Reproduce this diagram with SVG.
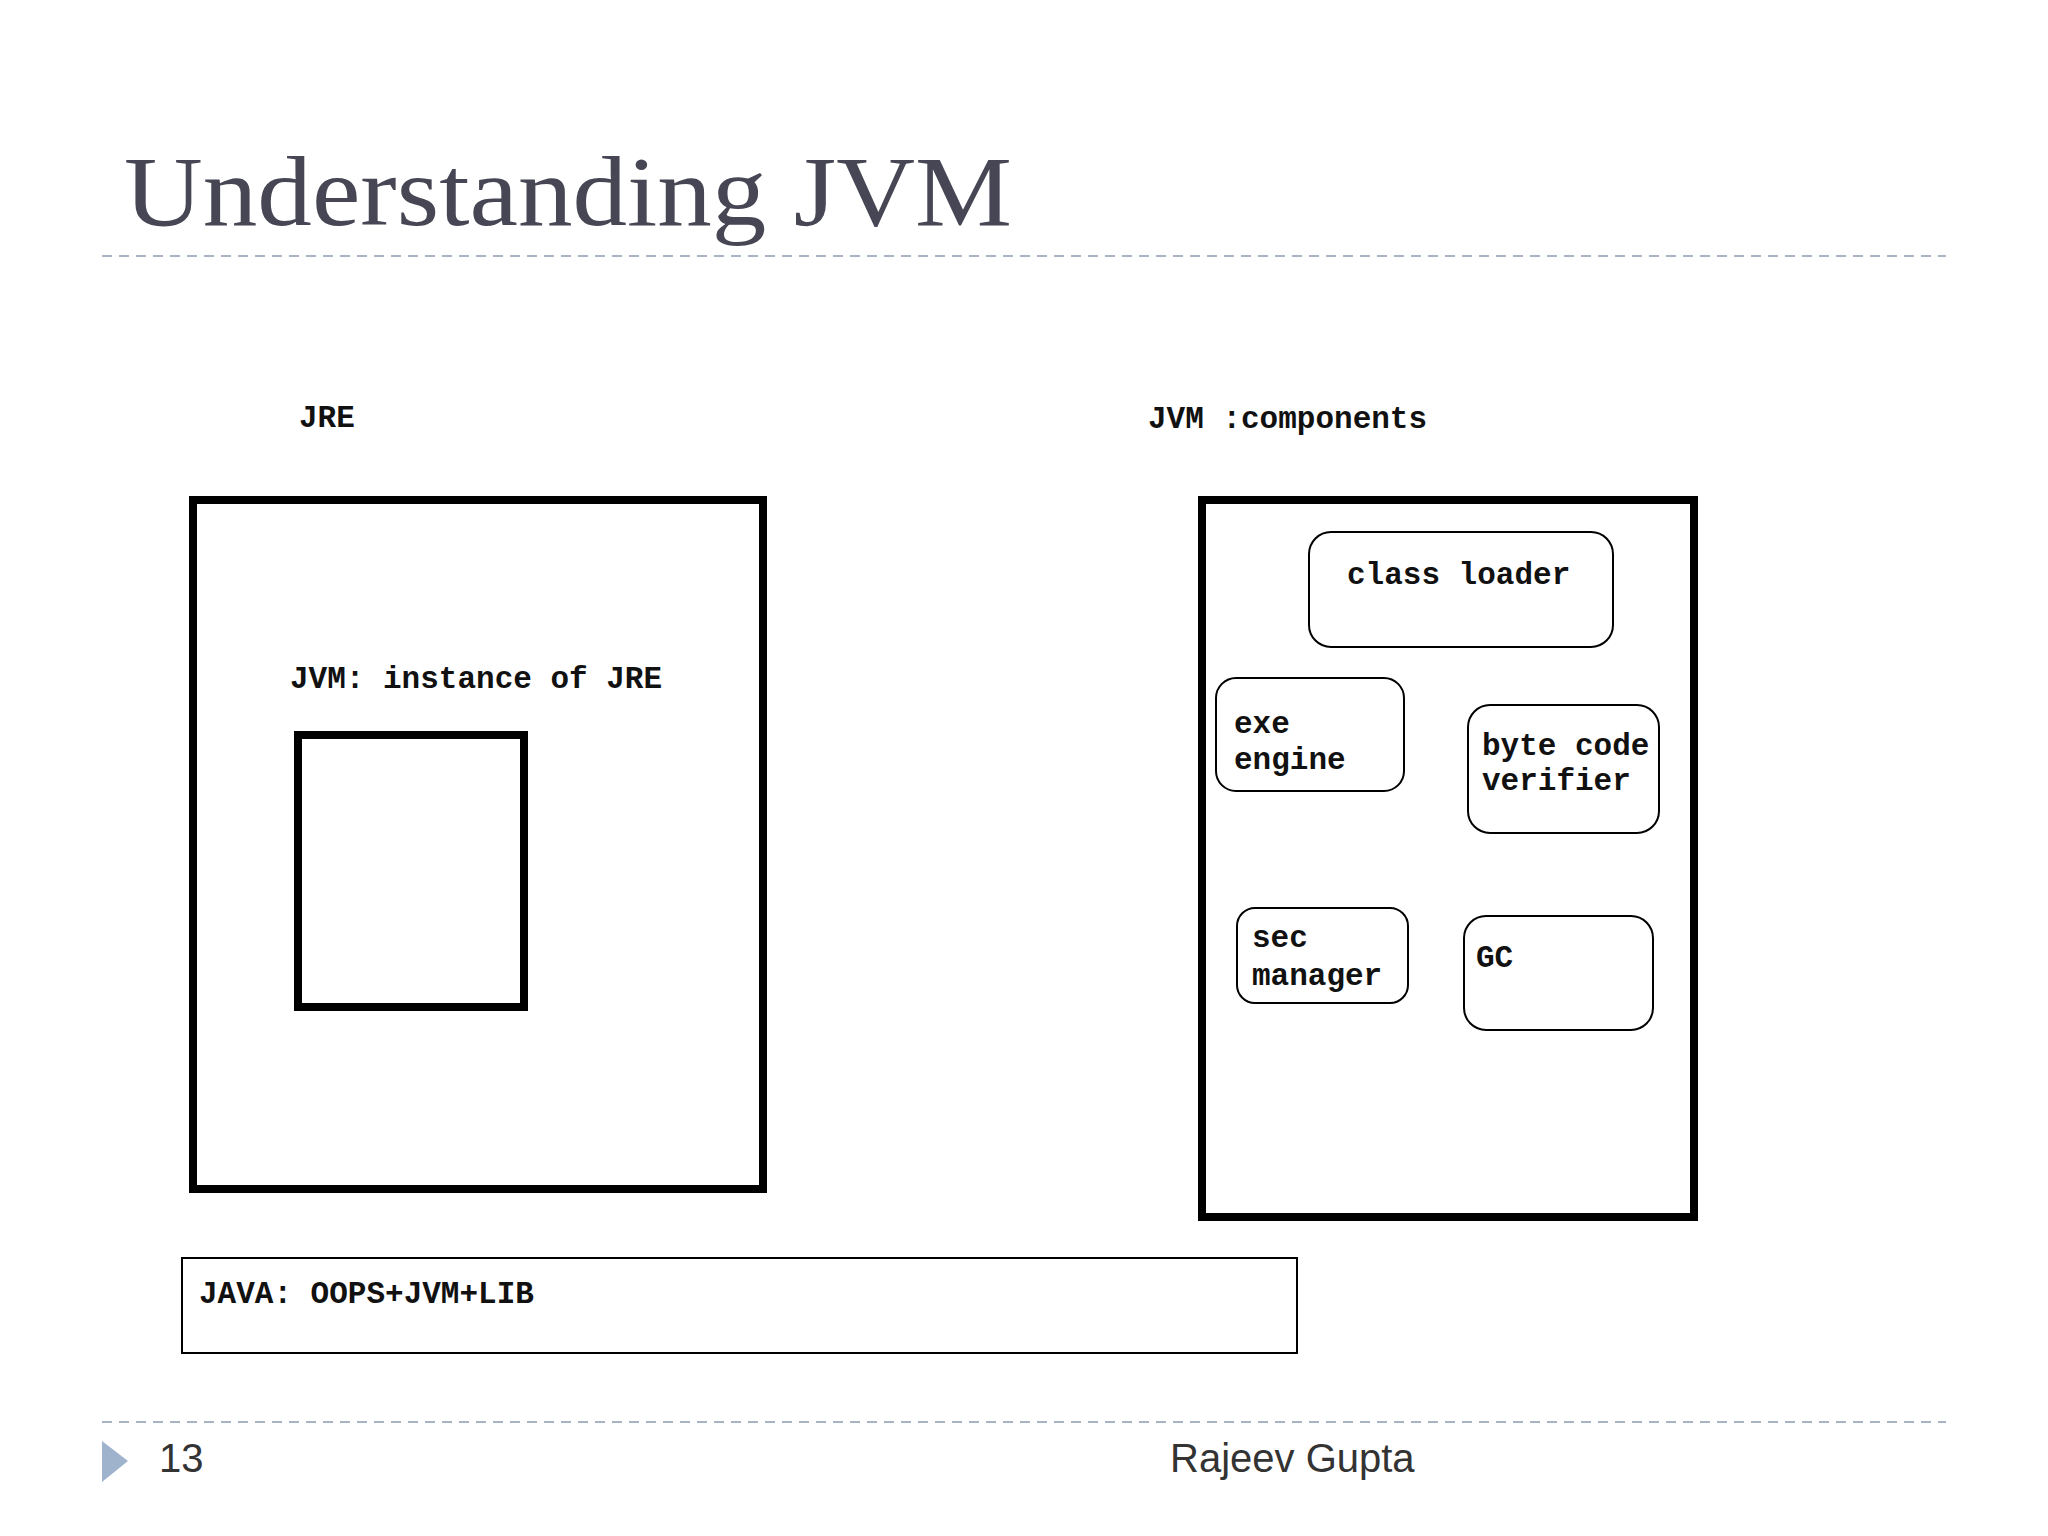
<svg xmlns="http://www.w3.org/2000/svg" width="2048" height="1536" viewBox="0 0 2048 1536">
<style>
.m{font-family:"Liberation Mono","DejaVu Sans Mono",monospace;font-size:31px;fill:#111;font-weight:bold}
.b{fill:none;stroke:#000;stroke-width:8}
.r{fill:none;stroke:#000;stroke-width:2}
.d{stroke:#a8b4c4;stroke-width:2;stroke-dasharray:10,7}
</style>
<rect width="2048" height="1536" fill="#fff"/>
<text x="124" y="225" font-family="Liberation Serif,serif" font-size="100" fill="#464654" textLength="888" lengthAdjust="spacingAndGlyphs">Understanding JVM</text>
<line class="d" x1="102" y1="256" x2="1946" y2="256"/>
<line class="d" x1="102" y1="1422" x2="1946" y2="1422"/>
<polygon points="102,1441 128,1461 102,1482" fill="#9fb4cc"/>
<text x="159" y="1472" font-family="Liberation Sans,sans-serif" font-size="40" fill="#333">13</text>
<text x="1170" y="1472" font-family="Liberation Sans,sans-serif" font-size="40" fill="#333">Rajeev Gupta</text>
<g id="jre"><text class="m" x="299" y="427">JRE</text><rect class="b" x="193" y="500" width="570" height="689"/></g>
<g id="jvm-instance"><text class="m" x="290" y="688">JVM: instance of JRE</text><rect class="b" x="298" y="735" width="226" height="272"/></g>
<g id="jvm-components"><text class="m" x="1148" y="428">JVM :components</text><rect class="b" x="1202" y="500" width="492" height="717"/></g>
<g id="class-loader"><rect class="r" x="1309" y="532" width="304" height="115" rx="22"/><text class="m" x="1347" y="584">class loader</text></g>
<g id="exe-engine"><rect class="r" x="1216" y="678" width="188" height="113" rx="20"/><text class="m" x="1234" y="733">exe</text><text class="m" x="1234" y="769">engine</text></g>
<g id="bytecode"><rect class="r" x="1468" y="705" width="191" height="128" rx="22"/><text class="m" x="1482" y="755">byte code</text><text class="m" x="1482" y="790">verifier</text></g>
<g id="sec-manager"><rect class="r" x="1237" y="908" width="171" height="95" rx="18"/><text class="m" x="1252" y="947">sec</text><text class="m" x="1252" y="985">manager</text></g>
<g id="gc"><rect class="r" x="1464" y="916" width="189" height="114" rx="22"/><text class="m" x="1476" y="967">GC</text></g>
<g id="java"><rect class="r" x="182" y="1258" width="1115" height="95"/><text class="m" x="199" y="1303">JAVA: OOPS+JVM+LIB</text></g>
<g id="connectors"/>
</svg>
